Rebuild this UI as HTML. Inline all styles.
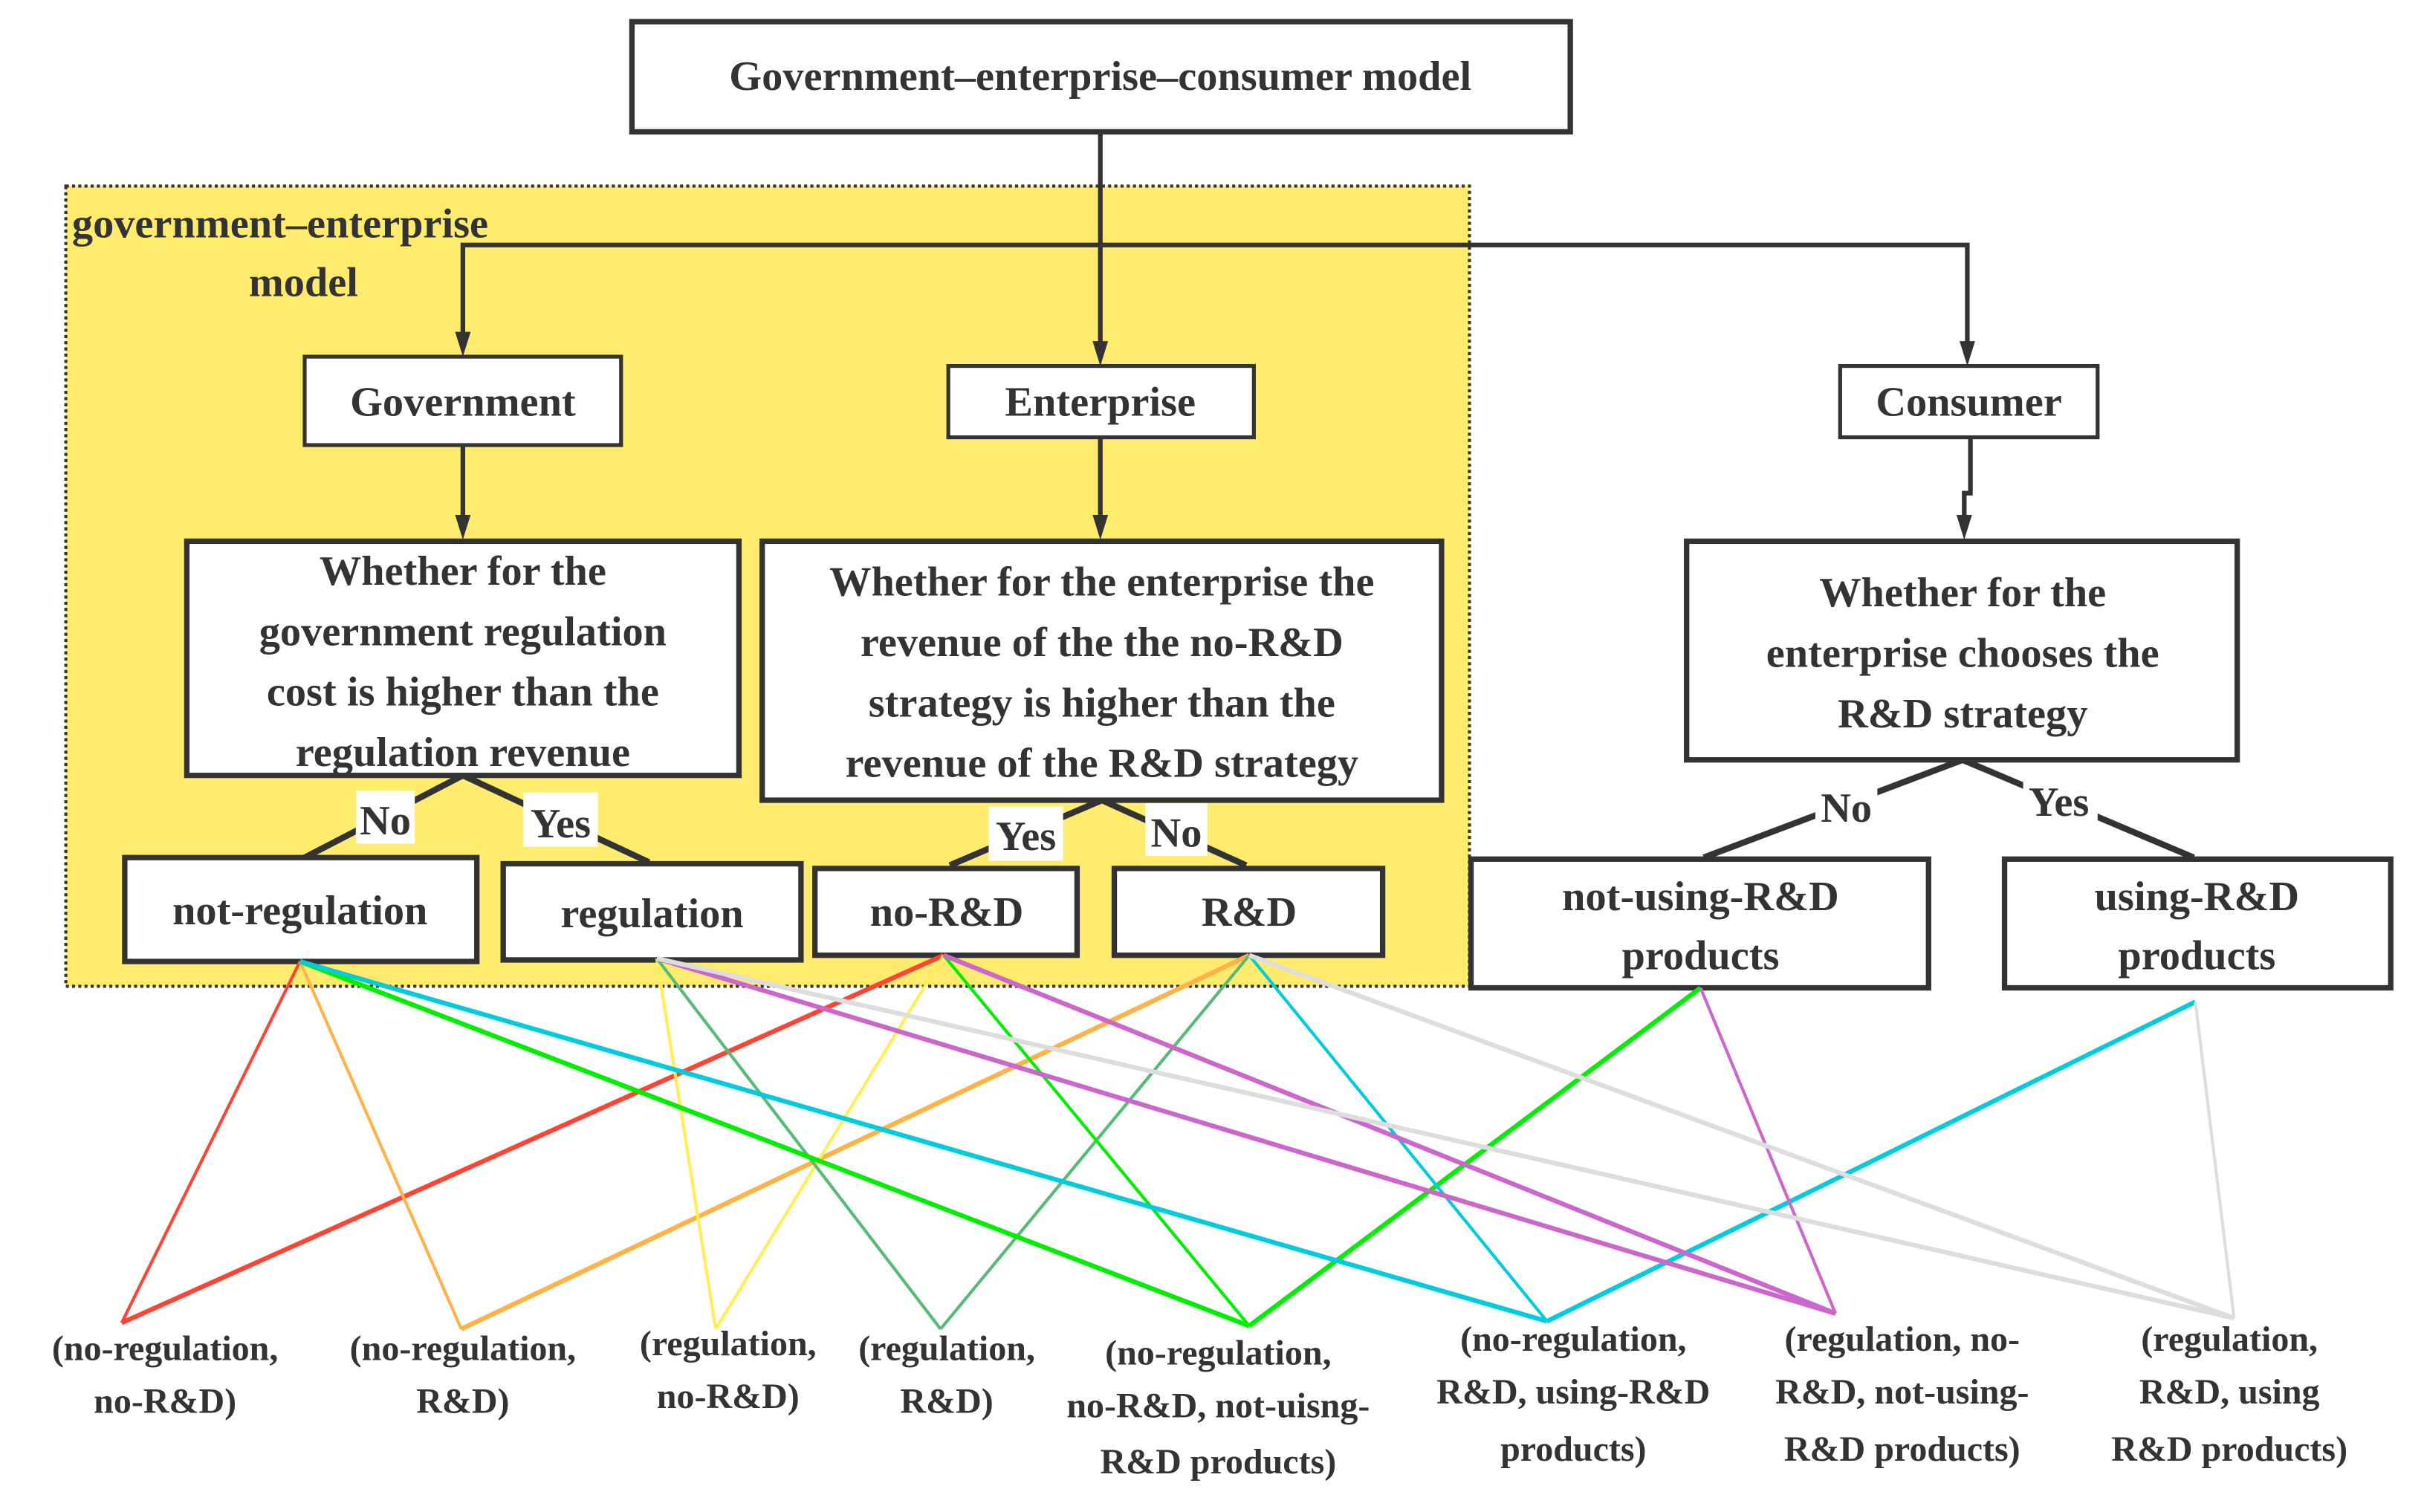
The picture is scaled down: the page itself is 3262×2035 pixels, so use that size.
<!DOCTYPE html>
<html><head><meta charset="utf-8"><style>
html,body{margin:0;padding:0;background:#fff;}
svg{display:block;}
text{font-family:"Liberation Serif","Times New Roman",Times,"DejaVu Serif",serif;font-weight:bold;fill:#333;}
</style></head><body>
<svg width="3262" height="2035" viewBox="0 0 1562 975" xmlns="http://www.w3.org/2000/svg" font-family="Liberation Serif, Times New Roman, DejaVu Serif, serif">
<rect x="42" y="120" width="905" height="516" fill="#ffec6e" stroke="#333" stroke-width="2" stroke-dasharray="2,2"/>
<text x="46" y="153" font-size="27">government–enterprise</text>
<text x="160" y="191" font-size="27">model</text>

<rect x="407" y="14" width="605" height="71" fill="#fff" stroke="#333" stroke-width="3.5"/>
<text x="709" y="58" font-size="27" text-anchor="middle">Government–enterprise–consumer model</text>

<g stroke="#333" stroke-width="3" fill="none">
<line x1="709" y1="85" x2="709" y2="222"/>
<polyline points="298,222 298,158 1268,158 1268,228"/>
<line x1="298" y1="287" x2="298" y2="340"/>
<line x1="709" y1="282" x2="709" y2="340"/>
<polyline points="1270,282 1270,318 1266,318 1266,340"/>
</g>
<g fill="#333">
<path d="M293,214 L303,214 L298,230 z"/>
<path d="M704,220 L714,220 L709,236 z"/>
<path d="M1263,220 L1273,220 L1268,236 z"/>
<path d="M293,332 L303,332 L298,348 z"/>
<path d="M704,332 L714,332 L709,348 z"/>
<path d="M1261,332 L1271,332 L1266,348 z"/>
</g>

<g stroke="#333" stroke-width="4" fill="none">
<polyline points="196,553 298,500 418,556"/>
<polyline points="612,558 710,516 803,558"/>
<polyline points="1098,553 1265,490 1414,553"/>
</g>
<rect x="229" y="510" width="38" height="34" fill="#fff"/>
<text x="248" y="538" font-size="27" text-anchor="middle">No</text>
<rect x="337" y="511" width="48" height="35" fill="#fff"/>
<text x="361" y="540" font-size="27" text-anchor="middle">Yes</text>
<rect x="637" y="520" width="48" height="35" fill="#fff"/>
<text x="661" y="548" font-size="27" text-anchor="middle">Yes</text>
<rect x="738" y="518" width="40" height="34" fill="#fff"/>
<text x="758" y="546" font-size="27" text-anchor="middle">No</text>
<rect x="1170" y="505" width="40" height="30" fill="#fff"/>
<text x="1190" y="530" font-size="27" text-anchor="middle">No</text>
<rect x="1304" y="502" width="48" height="30" fill="#fff"/>
<text x="1327" y="526" font-size="27" text-anchor="middle">Yes</text>

<g fill="#fff" stroke="#333">
<rect x="196" y="230" width="204" height="57" stroke-width="2.5"/>
<rect x="611" y="236" width="197" height="46" stroke-width="2.5"/>
<rect x="1186" y="236" width="166" height="46" stroke-width="2.5"/>
<rect x="120" y="349" width="356" height="151" stroke-width="3.5"/>
<rect x="491" y="349" width="438" height="167" stroke-width="3.5"/>
<rect x="1087" y="349" width="355" height="141" stroke-width="3.5"/>
<rect x="80" y="553" width="227" height="67" stroke-width="3.5"/>
<rect x="324" y="557" width="192" height="62" stroke-width="3.5"/>
<rect x="525" y="560" width="169" height="56" stroke-width="3.5"/>
<rect x="718" y="560" width="173" height="56" stroke-width="3.5"/>
<rect x="948" y="554" width="295" height="83" stroke-width="3.5"/>
<rect x="1292" y="554" width="249" height="83" stroke-width="3.5"/>
</g>
<g font-size="27" text-anchor="middle">
<text x="298" y="268">Government</text>
<text x="709" y="268">Enterprise</text>
<text x="1269" y="268">Consumer</text>
<text x="298" y="377">Whether for the</text>
<text x="298" y="416">government  regulation</text>
<text x="298" y="455">cost is higher than the</text>
<text x="298" y="494">regulation revenue</text>
<text x="710" y="384">Whether for the enterprise the</text>
<text x="710" y="423">revenue of the the no-R&amp;D</text>
<text x="710" y="462">strategy is higher than the</text>
<text x="710" y="501">revenue of the R&amp;D strategy</text>
<text x="1265" y="391">Whether for the</text>
<text x="1265" y="430">enterprise  chooses the</text>
<text x="1265" y="469">R&amp;D strategy</text>
<text x="193" y="596">not-regulation</text>
<text x="420" y="598">regulation</text>
<text x="610" y="597">no-R&amp;D</text>
<text x="805" y="597">R&amp;D</text>
<text x="1096" y="587">not-using-R&amp;D</text>
<text x="1096" y="625">products</text>
<text x="1416" y="587">using-R&amp;D</text>
<text x="1416" y="625">products</text>
</g>

<g fill="none">
<g stroke="#ff4433"><line x1="193" y1="620" x2="78" y2="853" stroke-width="2"/><line x1="608" y1="616" x2="78" y2="853" stroke-width="3"/></g>
<g stroke="#ffb347"><line x1="193" y1="620" x2="297" y2="857" stroke-width="2"/><line x1="805" y1="616" x2="297" y2="857" stroke-width="3"/></g>
<g stroke="#ffee55"><line x1="423" y1="618" x2="461" y2="857" stroke-width="2"/><line x1="608" y1="616" x2="461" y2="857" stroke-width="2"/></g>
<g stroke="#55bb77"><line x1="423" y1="618" x2="606" y2="857" stroke-width="2"/><line x1="805" y1="616" x2="606" y2="857" stroke-width="2"/></g>
<g stroke="#00ee00"><line x1="193" y1="620" x2="805" y2="855" stroke-width="3"/><line x1="608" y1="616" x2="805" y2="855" stroke-width="2"/><line x1="1096" y1="637" x2="805" y2="855" stroke-width="3"/></g>
<g stroke="#00ccdd"><line x1="193" y1="620" x2="997" y2="852" stroke-width="3"/><line x1="805" y1="616" x2="997" y2="852" stroke-width="2"/><line x1="1415" y1="646" x2="997" y2="852" stroke-width="3"/></g>
<g stroke="#cc66cc"><line x1="423" y1="618" x2="1183" y2="847" stroke-width="3"/><line x1="608" y1="616" x2="1183" y2="847" stroke-width="3"/><line x1="1096" y1="637" x2="1183" y2="847" stroke-width="2"/></g>
<g stroke="#dddddd"><line x1="423" y1="618" x2="1440" y2="850" stroke-width="3"/><line x1="805" y1="616" x2="1440" y2="850" stroke-width="3"/><line x1="1415" y1="646" x2="1440" y2="850" stroke-width="2"/></g>
</g>

<g font-size="23" text-anchor="middle">
<text x="106" y="877">(no-regulation,</text><text x="106" y="911">no-R&amp;D)</text>
<text x="298" y="877">(no-regulation,</text><text x="298" y="911">R&amp;D)</text>
<text x="469" y="874">(regulation,</text><text x="469" y="908">no-R&amp;D)</text>
<text x="610" y="877">(regulation,</text><text x="610" y="911">R&amp;D)</text>
<text x="785" y="880">(no-regulation,</text><text x="785" y="914">no-R&amp;D, not-uisng-</text><text x="785" y="950">R&amp;D products)</text>
<text x="1014" y="871">(no-regulation,</text><text x="1014" y="905">R&amp;D, using-R&amp;D</text><text x="1014" y="942">products)</text>
<text x="1226" y="871">(regulation, no-</text><text x="1226" y="905">R&amp;D, not-using-</text><text x="1226" y="942">R&amp;D products)</text>
<text x="1437" y="871">(regulation,</text><text x="1437" y="905">R&amp;D, using</text><text x="1437" y="942">R&amp;D products)</text>
</g>
</svg>
</body></html>
